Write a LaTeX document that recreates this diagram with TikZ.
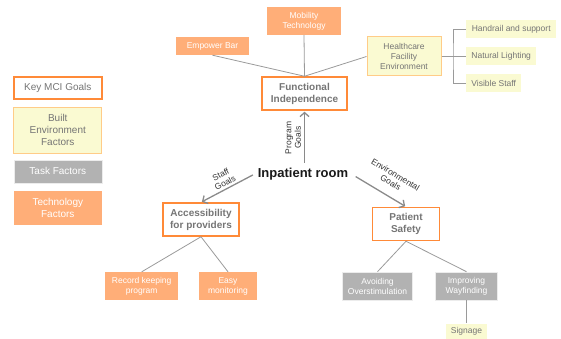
\documentclass[tikz,border=0pt]{standalone}
\usepackage{fontspec}
\setmainfont{Liberation Sans}
\usetikzlibrary{arrows.meta}
\definecolor{goalorange}{HTML}{FF8A38}
\definecolor{techorange}{HTML}{FFAE78}
\definecolor{builtyellow}{HTML}{FAFAD2}
\definecolor{builtborder}{HTML}{FFCC88}
\definecolor{taskgray}{HTML}{B2B2B2}
\definecolor{textgray}{HTML}{757575}
\definecolor{linegray}{HTML}{9A9A9A}
\definecolor{arrowgray}{HTML}{8A8A8A}
\begin{document}
\begin{tikzpicture}[x=1pt,y=-1pt,
  box/.style={align=center,inner sep=0pt,font=\fontsize{8.5}{10}\selectfont},
  goal/.style={box,draw=goalorange,line width=1.5pt,fill=white,text=textgray,font=\fontsize{10}{12}\selectfont\bfseries},
  built/.style={box,draw=builtborder,line width=1pt,fill=builtyellow,text=textgray},
  builtitem/.style={box,fill=builtyellow,text=textgray,anchor=west},
  task/.style={box,draw=white!85!gray,line width=0.6pt,fill=taskgray,text=white},
  tech/.style={box,fill=techorange,text=white},
  link/.style={draw=linegray,line width=0.8pt},
  goalarrow/.style={draw=arrowgray,line width=1.3pt,-{Straight Barb[length=4pt,width=9pt]}},
  glabel/.style={font=\fontsize{8.5}{9.5}\selectfont,align=center,text=black!80,inner sep=1pt}]
\useasboundingbox (0,0) rectangle (561,339);

\begin{scope}[every node/.style={minimum width=88pt}]
	\node[goal,font=\fontsize{10}{12}\selectfont,minimum height=22pt] (keyleg) at (57.8,88) {Key MCI Goals};
	\node[built,font=\fontsize{10}{12}\selectfont,minimum height=46pt] (builtleg) at (57.8,130.3) {Built\\Environment\\Factors};
	\node[task,font=\fontsize{10}{12}\selectfont,minimum height=23pt] (taskleg) at (57.8,171.3) {Task Factors};
	\node[tech,font=\fontsize{10}{12}\selectfont,minimum height=34pt] (techleg) at (57.8,208) {Technology\\Factors};
\end{scope}

\node[font=\fontsize{13}{15}\selectfont\bfseries,text=black!90,inner sep=3pt] (room) at (303,174) {Inpatient room};

\node[goal,minimum width=85pt,minimum height=33pt] (func) at (304.5,93.5) {Functional\\Independence};
\node[goal,minimum width=76pt,minimum height=33pt] (access) at (201,219.5) {Accessibility\\for providers};
\node[goal,minimum width=67pt,minimum height=33pt] (safety) at (406,224) {Patient\\Safety};

\node[tech,minimum width=74pt,minimum height=28pt] (mobility) at (304,21) {Mobility\\Technology};
\node[tech,minimum width=73pt,minimum height=18pt] (empower) at (212.5,46) {Empower Bar};
\node[built,minimum width=74pt,minimum height=39pt] (health) at (404,56.5) {Healthcare\\Facility\\Environment};

\node[builtitem,minimum width=90pt,minimum height=18pt] (handrail) at (466,29) {Handrail and support};
\node[builtitem,minimum width=70pt,minimum height=18pt] (lighting) at (466,56.5) {Natural Lighting};
\node[builtitem,minimum width=55pt,minimum height=18pt] (visible) at (466,83.3) {Visible Staff};
\coordinate (brk) at (453,56.5);

\node[tech,minimum width=73pt,minimum height=28pt] (record) at (141.7,286) {Record keeping\\program};
\node[tech,minimum width=58pt,minimum height=28pt] (easy) at (228,286) {Easy\\monitoring};
\node[task,minimum width=70pt,minimum height=28pt] (avoid) at (377.5,286) {Avoiding\\Overstimulation};
\node[task,minimum width=62pt,minimum height=28pt] (wayfind) at (466.5,286) {Improving\\Wayfinding};
\node[builtitem,anchor=center,minimum width=41pt,minimum height=16pt] (signage) at (466.5,331.5) {Signage};

\begin{scope}[every path/.style={link}]
	\draw (func.north) -- (empower.south);
	\draw (func.north) -- (mobility.south);
	\draw (func.north) -- (health.west);
	\draw (health.east) -- (lighting.west);
	\draw (handrail.west) -| (brk) |- (visible.west);
	\draw (access.south) -- (record.north);
	\draw (access.south) -- (easy.north);
	\draw (safety.south) -- (avoid.north);
	\draw (safety.south) -- (wayfind.north);
	\draw (wayfind.south) -- (signage.north);
\end{scope}

\begin{scope}[every edge/.style={goalarrow}]
	\path (room.north -| func.south) edge[shorten <=2pt,shorten >=1pt] node[glabel,midway,sloped,above,inner sep=3pt] {Program\\Goals} (func.south);
	\path (room.west) edge[shorten <=2pt,shorten >=1pt] node[glabel,midway,sloped,above,inner sep=2pt] {Staff\\Goals} (access.north);
	\path (room.east) edge[shorten <=5pt,shorten >=1pt] node[glabel,pos=0.6,sloped,above,inner sep=9pt] {Environmental\\Goals} (safety.north);
\end{scope}
\end{tikzpicture}
\end{document}
